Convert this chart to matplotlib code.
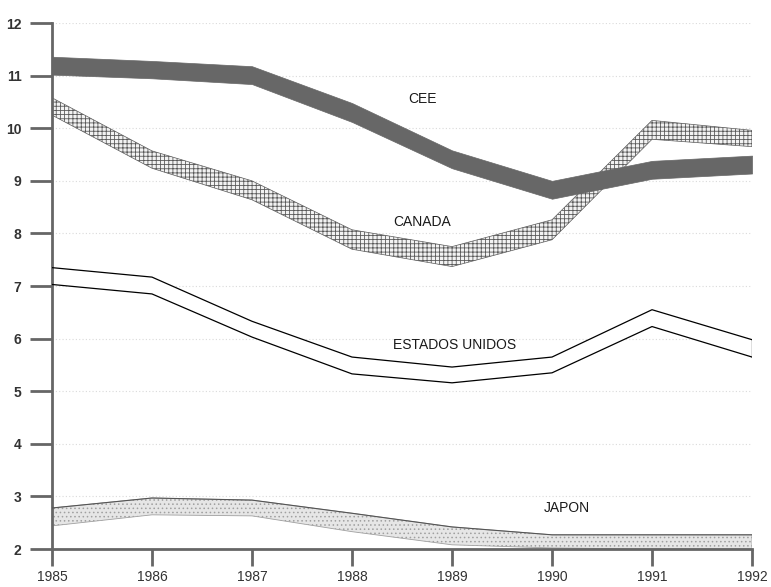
import numpy as np
import matplotlib
matplotlib.use("Agg")
import matplotlib.pyplot as plt

# Años
anios = [1985, 1986, 1987, 1988, 1989, 1990, 1991, 1992]

# Cada serie es una banda: borde superior / inferior
cee_sup = [11.36, 11.28, 11.18, 10.48, 9.58, 9.0, 9.38, 9.48]
cee_inf = [11.02, 10.95, 10.84, 10.12, 9.24, 8.66, 9.04, 9.14]

canada_sup = [10.58, 9.57, 9.0, 8.07, 7.75, 8.26, 10.15, 9.96]
canada_inf = [10.25, 9.24, 8.64, 7.70, 7.37, 7.88, 9.79, 9.65]

eeuu_sup = [7.35, 7.17, 6.33, 5.65, 5.46, 5.65, 6.55, 5.98]
eeuu_inf = [7.03, 6.85, 6.03, 5.33, 5.16, 5.35, 6.23, 5.65]

japon_sup = [2.78, 2.97, 2.93, 2.68, 2.42, 2.27, 2.27, 2.27]
japon_inf = [2.44, 2.65, 2.63, 2.33, 2.08, 2.02, 2.0, 2.0]

etiquetas = ["CEE", "CANADA", "ESTADOS UNIDOS", "JAPON"]
etiq_x = [1988.7, 1988.7, 1989.03, 1990.15]
etiq_y = [10.55, 8.22, 5.88, 2.78]

plt.rcParams['font.family'] = ['Liberation Sans', 'DejaVu Sans']
plt.rcParams['hatch.linewidth'] = 0.6

fig = plt.figure(figsize=(7.71, 5.87), dpi=100)
ax = fig.add_axes([0.0674, 0.0647, 0.908, 0.896])

# grille pointillée très pâle
for v in range(3, 13):
    ax.axhline(v, color='#dadada', linestyle=(0, (1, 2)), linewidth=0.8, zorder=0)

# CEE : bande gris foncé
ax.fill_between(anios, cee_inf, cee_sup, facecolor='#676767', edgecolor='#676767',
                linewidth=0.5, zorder=3)

# CANADA : bande quadrillée
ax.fill_between(anios, canada_inf, canada_sup, facecolor='#f2f2f2', edgecolor='#5a5a5a',
                hatch='++++', linewidth=0.5, zorder=2)

# ESTADOS UNIDOS : bande blanche bordée de noir
ax.fill_between(anios, eeuu_inf, eeuu_sup, facecolor='white', edgecolor='none', zorder=2)
ax.plot(anios, eeuu_sup, color='black', linewidth=0.9, zorder=3)
ax.plot(anios, eeuu_inf, color='black', linewidth=0.9, zorder=3)
ax.plot([anios[-1], anios[-1]], [eeuu_inf[-1], eeuu_sup[-1]], color='black',
        linewidth=0.9, zorder=3)

# JAPON : bande pointillée claire
ax.fill_between(anios, japon_inf, japon_sup, facecolor='#e6e6e6', edgecolor='#a0a0a0',
                hatch='....', linewidth=0.6, zorder=2)
ax.plot(anios, japon_sup, color='#555555', linewidth=0.8, zorder=3)

for txt, x, y in zip(etiquetas, etiq_x, etiq_y):
    ax.text(x, y, txt, ha='center', va='center', fontsize=10, color='#1a1a1a', zorder=5)

ax.set_xlim(1985, 1992)
ax.set_ylim(2, 12)
ax.set_xticks(anios)
ax.set_yticks(range(2, 13))
ax.tick_params(axis='y', direction='out', length=16, width=2, color='#666666',
               labelsize=10, pad=6)
ax.tick_params(axis='x', direction='out', length=12, width=2, color='#666666',
               labelsize=10, pad=3)
for lab in ax.get_yticklabels():
    lab.set_fontweight('bold')
    lab.set_color('#333333')
for lab in ax.get_xticklabels():
    lab.set_color('#333333')

for s in ['top', 'right']:
    ax.spines[s].set_visible(False)
for s in ['left', 'bottom']:
    ax.spines[s].set_linewidth(2)
    ax.spines[s].set_color('#666666')

fig.savefig("out.png", dpi=100)
